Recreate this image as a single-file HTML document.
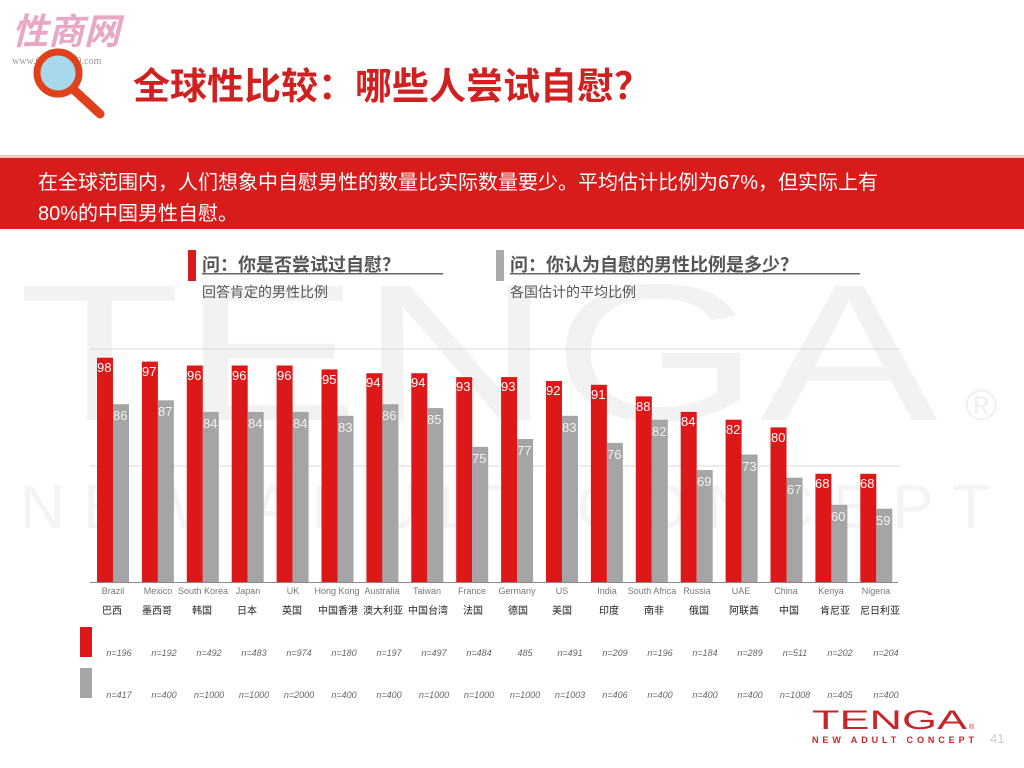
<!DOCTYPE html>
<html><head><meta charset="utf-8"><style>
html,body{margin:0;padding:0;background:#fff;width:1024px;height:768px;overflow:hidden}
svg{display:block}
</style></head><body>
<svg width="1024" height="768" viewBox="0 0 1024 768" xmlns="http://www.w3.org/2000/svg" font-family="'Liberation Sans','Noto Sans CJK SC',sans-serif">
<!-- watermark -->
<text x="18" y="420" font-size="195" fill="#f2f2f2" textLength="920" lengthAdjust="spacingAndGlyphs">TENGA</text>
<text x="965" y="420" font-size="44" fill="#f0f0f0">®</text>
<text x="20" y="528" font-size="62" fill="#f4f4f4" textLength="970" lengthAdjust="spacing">NEW ADULT CONCEPT</text>
<!-- top logo -->
<text x="12" y="44" font-size="36" font-style="italic" font-weight="bold" fill="#e8a7c4">性商网</text>
<text x="12" y="64" font-size="10" fill="#999" font-family="'Liberation Serif',serif">www.ChinaSexQ.com</text>
<!-- magnifier -->
<line x1="72" y1="88" x2="100" y2="114" stroke="#e0401a" stroke-width="9" stroke-linecap="round"/>
<circle cx="58" cy="73" r="21" fill="#a8d8ec" stroke="#e0401a" stroke-width="7"/>
<!-- title -->
<text x="133" y="99" font-size="37" font-weight="bold" fill="#d02020">全球性比较：哪些人尝试自慰？</text>
<!-- red band -->
<rect x="0" y="155" width="1024" height="3" fill="#f4c7bd"/>
<rect x="0" y="158" width="1024" height="71" fill="#d81c1c"/>
<text x="38" y="189" font-size="20" fill="#fff">在全球范围内，人们想象中自慰男性的数量比实际数量要少。平均估计比例为67%，但实际上有</text>
<text x="38" y="220" font-size="20" fill="#fff">80%的中国男性自慰。</text>
<!-- questions -->
<rect x="188" y="250" width="8" height="31" fill="#d81c1c"/>
<text x="202" y="271" font-size="18" font-weight="bold" fill="#555">问：你是否尝试过自慰？</text>
<rect x="202" y="273" width="241" height="1.5" fill="#666"/>
<text x="202" y="297" font-size="14" fill="#555">回答肯定的男性比例</text>
<rect x="496" y="250" width="8" height="31" fill="#aaa"/>
<text x="510" y="271" font-size="18" font-weight="bold" fill="#555">问：你认为自慰的男性比例是多少？</text>
<rect x="510" y="273" width="350" height="1.5" fill="#666"/>
<text x="510" y="297" font-size="14" fill="#555">各国估计的平均比例</text>
<!-- grid -->
<line x1="90" y1="349" x2="900" y2="349" stroke="#d9d9d9"/>
<line x1="90" y1="466" x2="900" y2="466" stroke="#d9d9d9"/>
<line x1="90" y1="582.5" x2="898" y2="582.5" stroke="#888"/>
<!-- bars -->
<g fill="#dc1818">
<rect x="97" y="357.7" width="16" height="224.3"/>
<rect x="141.9" y="361.6" width="16" height="220.4"/>
<rect x="186.8" y="365.5" width="16" height="216.5"/>
<rect x="231.7" y="365.5" width="16" height="216.5"/>
<rect x="276.6" y="365.5" width="16" height="216.5"/>
<rect x="321.5" y="369.4" width="16" height="212.6"/>
<rect x="366.4" y="373.2" width="16" height="208.8"/>
<rect x="411.3" y="373.2" width="16" height="208.8"/>
<rect x="456.2" y="377.1" width="16" height="204.9"/>
<rect x="501.1" y="377.1" width="16" height="204.9"/>
<rect x="546" y="381" width="16" height="201"/>
<rect x="590.9" y="384.8" width="16" height="197.2"/>
<rect x="635.8" y="396.4" width="16" height="185.6"/>
<rect x="680.7" y="411.9" width="16" height="170.1"/>
<rect x="725.6" y="419.7" width="16" height="162.3"/>
<rect x="770.5" y="427.4" width="16" height="154.6"/>
<rect x="815.4" y="473.8" width="16" height="108.2"/>
<rect x="860.3" y="473.8" width="16" height="108.2"/>
</g>
<g fill="#a5a5a7">
<rect x="113" y="404.2" width="16" height="177.8"/>
<rect x="157.9" y="400.3" width="16" height="181.7"/>
<rect x="202.8" y="411.9" width="16" height="170.1"/>
<rect x="247.7" y="411.9" width="16" height="170.1"/>
<rect x="292.6" y="411.9" width="16" height="170.1"/>
<rect x="337.5" y="415.8" width="16" height="166.2"/>
<rect x="382.4" y="404.2" width="16" height="177.8"/>
<rect x="427.3" y="408.1" width="16" height="173.9"/>
<rect x="472.2" y="446.8" width="16" height="135.2"/>
<rect x="517.1" y="439" width="16" height="143"/>
<rect x="562" y="415.8" width="16" height="166.2"/>
<rect x="606.9" y="442.9" width="16" height="139.1"/>
<rect x="651.8" y="419.7" width="16" height="162.3"/>
<rect x="696.7" y="470" width="16" height="112"/>
<rect x="741.6" y="454.5" width="16" height="127.5"/>
<rect x="786.5" y="477.7" width="16" height="104.3"/>
<rect x="831.4" y="504.8" width="16" height="77.2"/>
<rect x="876.3" y="508.7" width="16" height="73.3"/>
</g>
<!-- value labels -->
<g font-size="13" fill="#fff">
<text x="97" y="372">98</text><text x="142" y="376">97</text><text x="187" y="380">96</text><text x="232" y="380">96</text><text x="277" y="380">96</text><text x="322" y="384">95</text><text x="366" y="387">94</text><text x="411" y="387">94</text><text x="456" y="391">93</text><text x="501" y="391">93</text><text x="546" y="395">92</text><text x="591" y="399">91</text><text x="636" y="411">88</text><text x="681" y="426">84</text><text x="726" y="434">82</text><text x="771" y="442">80</text><text x="815" y="488">68</text><text x="860" y="488">68</text>
</g>
<g font-size="13" fill="#f2f2f2">
<text x="113" y="420">86</text><text x="158" y="416">87</text><text x="203" y="428">84</text><text x="248" y="428">84</text><text x="293" y="428">84</text><text x="338" y="432">83</text><text x="382" y="420">86</text><text x="427" y="424">85</text><text x="472" y="463">75</text><text x="517" y="455">77</text><text x="562" y="432">83</text><text x="607" y="459">76</text><text x="652" y="436">82</text><text x="697" y="486">69</text><text x="742" y="471">73</text><text x="787" y="494">67</text><text x="831" y="521">60</text><text x="876" y="525">59</text>
</g>
<!-- country labels -->
<g font-size="9" fill="#777" text-anchor="middle">
<text x="113" y="594">Brazil</text><text x="158" y="594">Mexico</text><text x="203" y="594">South Korea</text><text x="248" y="594">Japan</text><text x="293" y="594">UK</text><text x="337" y="594">Hong Kong</text><text x="382" y="594">Australia</text><text x="427" y="594">Taiwan</text><text x="472" y="594">France</text><text x="517" y="594">Germany</text><text x="562" y="594">US</text><text x="607" y="594">India</text><text x="652" y="594">South Africa</text><text x="697" y="594">Russia</text><text x="741" y="594">UAE</text><text x="786" y="594">China</text><text x="831" y="594">Kenya</text><text x="876" y="594">Nigeria</text>
</g>
<g font-size="10" fill="#222" text-anchor="middle">
<text x="112" y="614">巴西</text><text x="157" y="614">墨西哥</text><text x="202" y="614">韩国</text><text x="247" y="614">日本</text><text x="292" y="614">英国</text><text x="338" y="614">中国香港</text><text x="383" y="614">澳大利亚</text><text x="428" y="614">中国台湾</text><text x="473" y="614">法国</text><text x="518" y="614">德国</text><text x="562" y="614">美国</text><text x="609" y="614">印度</text><text x="654" y="614">南非</text><text x="699" y="614">俄国</text><text x="744" y="614">阿联酋</text><text x="789" y="614">中国</text><text x="835" y="614">肯尼亚</text><text x="880" y="614">尼日利亚</text>
</g>
<!-- n rows -->
<rect x="80" y="627" width="12" height="30" fill="#dc1818"/>
<rect x="80" y="668" width="12" height="30" fill="#a5a5a7"/>
<g font-size="9" fill="#666" font-style="italic" text-anchor="middle">
<text x="119" y="656">n=196</text><text x="164" y="656">n=192</text><text x="209" y="656">n=492</text><text x="254" y="656">n=483</text><text x="299" y="656">n=974</text><text x="344" y="656">n=180</text><text x="389" y="656">n=197</text><text x="434" y="656">n=497</text><text x="479" y="656">n=484</text><text x="525" y="656">485</text><text x="570" y="656">n=491</text><text x="615" y="656">n=209</text><text x="660" y="656">n=196</text><text x="705" y="656">n=184</text><text x="750" y="656">n=289</text><text x="795" y="656">n=511</text><text x="840" y="656">n=202</text><text x="886" y="656">n=204</text>
<text x="119" y="698">n=417</text><text x="164" y="698">n=400</text><text x="209" y="698">n=1000</text><text x="254" y="698">n=1000</text><text x="299" y="698">n=2000</text><text x="344" y="698">n=400</text><text x="389" y="698">n=400</text><text x="434" y="698">n=1000</text><text x="479" y="698">n=1000</text><text x="525" y="698">n=1000</text><text x="570" y="698">n=1003</text><text x="615" y="698">n=406</text><text x="660" y="698">n=400</text><text x="705" y="698">n=400</text><text x="750" y="698">n=400</text><text x="795" y="698">n=1008</text><text x="840" y="698">n=405</text><text x="886" y="698">n=400</text>
</g>
<!-- bottom logo -->
<text x="812" y="729" font-size="27" fill="#c8242a" textLength="155" lengthAdjust="spacingAndGlyphs">TENGA</text>
<text x="969" y="729" font-size="7" fill="#c8242a">®</text>
<text x="812" y="743" font-size="9" fill="#c8242a" textLength="162" lengthAdjust="spacing" font-weight="bold">NEW ADULT CONCEPT</text>
<text x="990" y="743" font-size="13" fill="#ccc">41</text>
</svg>
</body></html>
